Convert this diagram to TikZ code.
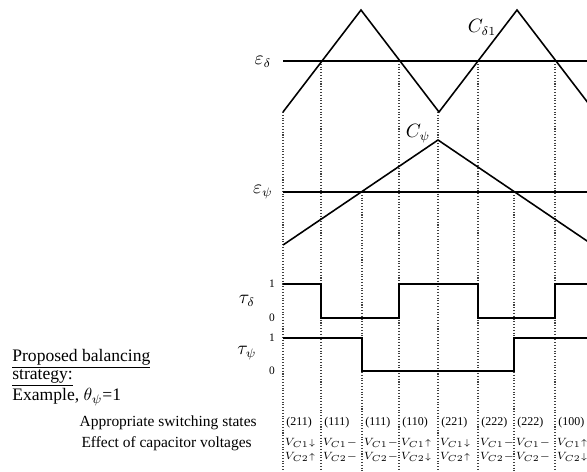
\documentclass[tikz,border=0pt]{standalone}
\usepackage{fontspec}
\setmainfont{Liberation Serif}
\usetikzlibrary{positioning, calc}
\newcommand{\dnarr}{{\scriptstyle\downarrow}}
\newcommand{\uparr}{{\scriptstyle\uparrow}}
\tikzset{
  wave/.style={line width=0.9pt, black},
  refline/.style={line width=0.9pt, black},
  guide/.style={densely dotted, line width=0.6pt, black!75},
  siglabel/.style={font=\fontsize{10.5}{11}\selectfont, inner sep=0pt},
  lvl/.style={font=\fontsize{6.5}{7}\selectfont, inner sep=0pt},
  statebox/.style={font=\fontsize{6.8}{7}\selectfont, inner sep=0pt, anchor=west},
  effect/.style={font=\fontsize{6.3}{7}\selectfont, inner sep=0pt, anchor=west},
  rowlabel/.style={font=\fontsize{8.8}{9}\selectfont, inner sep=0pt, anchor=east},
}

\begin{document}
\begin{tikzpicture}[x=0.02cm, y=-0.02cm]
\useasboundingbox (0,0) rectangle (587,471);
\begin{scope}
\clip (0,0) rectangle (587,471);
\foreach \gx/\gy in {283/112, 321/61, 362/192, 399/61, 438/112, 478/61, 514/192, 555/61}
  \draw[guide] (\gx,\gy) -- (\gx,471);
\draw[refline] (283,61) -- (600,61);
\draw[refline] (283,192) -- (600,192);
\draw[wave] (283,112) -- (361,10) -- (439,112) -- (517,10) -- (595,112);
\draw[wave] (283,245) -- (438,140) -- (593,245);
\draw[wave] (283,284) -- (321,284) -- (321,318) -- (399,318) -- (399,284) -- (478,284)
  -- (478,318) -- (555,318) -- (555,284) -- (600,284);
\draw[wave] (283,338) -- (362,338) -- (362,371) -- (514,371) -- (514,338) -- (600,338);
\end{scope}
\foreach \cx/\st/\ea/\eb [count=\i] in {283/211/\dnarr/\uparr, 321/111/{-}/{-},
    362/111/{-}/{-}, 399/110/\uparr/\dnarr, 438/221/\dnarr/\uparr,
    478/222/{-}/{-}, 514/222/{-}/{-}, 555/100/\uparr/\dnarr}{
  \node[statebox] (state\i) at (\cx+3,423) {(\st)};
  \node[effect] (vca\i) at (\cx+1.5,443) {$V_{C1}\ea$};
  \node[effect] (vcb\i) at (\cx+1.5,457) {$V_{C2}\eb$};
}
\node[siglabel] (epsd) at (263,62) {$\varepsilon_\delta$};
\node[siglabel] (epsp) at (263,192) {$\varepsilon_\psi$};
\node[siglabel] (cdelta) at (482,27) {$C_{\delta 1}$};
\node[siglabel] (cpsi) at (418,134) {$C_\psi$};
\node[siglabel] (taud) at (247,301) {$\tau_\delta$};
\node[siglabel] (taup) at (247,353) {$\tau_\psi$};
\node[lvl] (d1) at (272,284) {1};
\node[lvl] (d0) at (272,318) {0};
\node[lvl] (p1) at (272,338) {1};
\node[lvl] (p0) at (272,371) {0};
\node[anchor=north west, align=left, inner sep=0pt, font=\fontsize{10}{10}\selectfont] (strategy) at (12,349)
  {\underline{Proposed balancing}\\\underline{strategy:}\\Example, $\theta_\psi$=1};
\node[rowlabel] (statesrow) at (257,423) {Appropriate switching states};
\node[rowlabel] (effectrow) at (252,444) {Effect of capacitor voltages};
\end{tikzpicture}
\end{document}
